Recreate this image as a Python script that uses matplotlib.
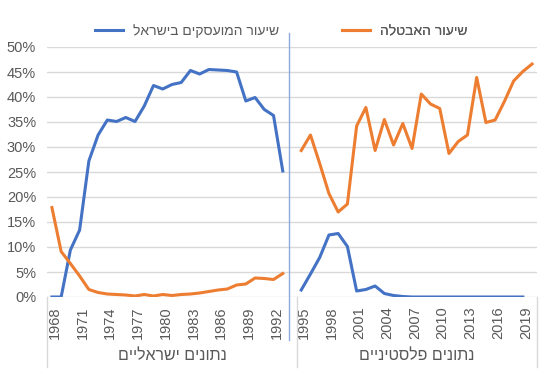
import matplotlib
matplotlib.use("Agg")
import matplotlib.pyplot as plt
import matplotlib.transforms as mtransforms
import numpy as np

plt.rcParams["font.family"] = ["Liberation Sans", "DejaVu Sans"]

TEXT = "#595959"
BLUE = "#4472C4"
ORANGE = "#ED7D31"
GRID = "#D9D9D9"

# Israeli data 1968-1994 (1994 empty), Palestinian data 1995-2020
years_il = list(range(1968, 1995))
years_pa = list(range(1995, 2021))

employ_il = [0.0, 0.0, 9.4, 13.4, 27.2, 32.4, 35.4, 35.1, 35.9, 35.1, 38.2, 42.3, 41.6,
             42.5, 42.9, 45.3, 44.6, 45.5, 45.4, 45.3, 45.0, 39.2, 39.9, 37.5, 36.3, 25.2,
             np.nan]
unemp_il = [17.9, 9.1, 6.7, 4.2, 1.5, 0.9, 0.6, 0.5, 0.4, 0.2, 0.5, 0.2, 0.5,
            0.3, 0.5, 0.6, 0.8, 1.1, 1.4, 1.6, 2.4, 2.6, 3.8, 3.7, 3.5, 4.7,
            np.nan]

employ_pa = [1.4, 4.6, 7.9, 12.4, 12.7, 10.1, 1.2, 1.5, 2.2, 0.7, 0.3, 0.1, 0.0,
             0.0, 0.0, 0.0, 0.0, 0.0, 0.0, 0.0, 0.0, 0.0, 0.0, 0.0, 0.0, np.nan]
unemp_pa = [29.3, 32.4, 26.7, 20.7, 17.0, 18.6, 34.2, 37.9, 29.3, 35.5, 30.4, 34.7, 29.7,
            40.6, 38.6, 37.7, 28.7, 31.1, 32.4, 43.9, 34.9, 35.4, 39.1, 43.2, 45.1, 46.6]

label_employ = "שיעור המועסקים בישראל"
label_unemp = "שיעור האבטלה"
group_labels = ["נתונים ישראליים", "נתונים פלסטיניים"]


def heb(s):
    # matplotlib lays text out left to right, so Hebrew is reversed for display
    return s[::-1]


years = years_il + years_pa
employ = np.array(employ_il + employ_pa) / 100
unemp = np.array(unemp_il + unemp_pa) / 100
x = np.arange(len(years))
n_il = len(years_il)

fig = plt.figure(figsize=(5.51, 3.74), dpi=100)
W, H = 551, 374
left, right, top, bottom = 47.3, 536.7, 47, 297
ax = fig.add_axes([left / W, 1 - bottom / H, (right - left) / W, (bottom - top) / H])

line_e, = ax.plot(x, employ, color=BLUE, lw=2.2, solid_joinstyle="round",
                  label=heb(label_employ))
line_u, = ax.plot(x, unemp, color=ORANGE, lw=2.2, solid_joinstyle="round",
                  label=heb(label_unemp))

ax.set_xlim(-0.5, len(years) - 0.5)
ax.set_ylim(0, 0.5)
yt = np.arange(0, 0.51, 0.05)
ax.set_yticks(yt)
ax.set_yticklabels([f"{int(round(v * 100))}%" for v in yt], color=TEXT, fontsize=10.5)
ax.yaxis.grid(True, color=GRID, lw=1)
ax.set_axisbelow(True)
for s in ax.spines.values():
    s.set_visible(False)

ticks = x[::3]
ax.set_xticks(ticks)
ax.set_xticklabels([str(years[i]) for i in ticks], rotation=90, color=TEXT, fontsize=10.5)
ax.tick_params(length=0)
ax.tick_params(axis="x", pad=7)
ax.tick_params(axis="y", pad=8)
# year labels sit a little right of their category, as in the original
shift = mtransforms.ScaledTranslation(3 / 100, 0, fig.dpi_scale_trans)
for lbl in ax.get_xticklabels():
    lbl.set_transform(lbl.get_transform() + shift)

# multi-level category axis separators
trans = mtransforms.blended_transform_factory(ax.transData, ax.transAxes)
depth = -(367 - bottom) / (bottom - top)
for xs in [-0.5, n_il - 0.5, len(years) - 0.5]:
    ax.plot([xs, xs], [0, depth], transform=trans, color=GRID, lw=1, clip_on=False)

centers = [(n_il - 1) / 2, n_il + (len(years_pa) - 1) / 2]
for cx, g in zip(centers, group_labels):
    ax.text(cx, -(355 - bottom) / (bottom - top), heb(g), transform=trans,
            ha="center", va="center", color=TEXT, fontsize=11.5)

# divider between the two data sources
ax.plot([n_il - 1.33, n_il - 1.33], [1.056, -0.172], transform=trans,
        color="#8EA9DB", lw=1, clip_on=False)

# legend entries placed like the original (handle left of the Hebrew label)
leg_y = (bottom - 31) / (bottom - top)
for handle, px in [(line_e, 95), (line_u, 342)]:
    leg = ax.legend(handles=[handle], loc="center left",
                    bbox_to_anchor=((px - left) / (right - left), leg_y),
                    frameon=False, fontsize=10, handlelength=2.0, handletextpad=0.75,
                    borderpad=0, borderaxespad=0, labelcolor=TEXT)
    ax.add_artist(leg)

fig.savefig("out.png", dpi=100)
